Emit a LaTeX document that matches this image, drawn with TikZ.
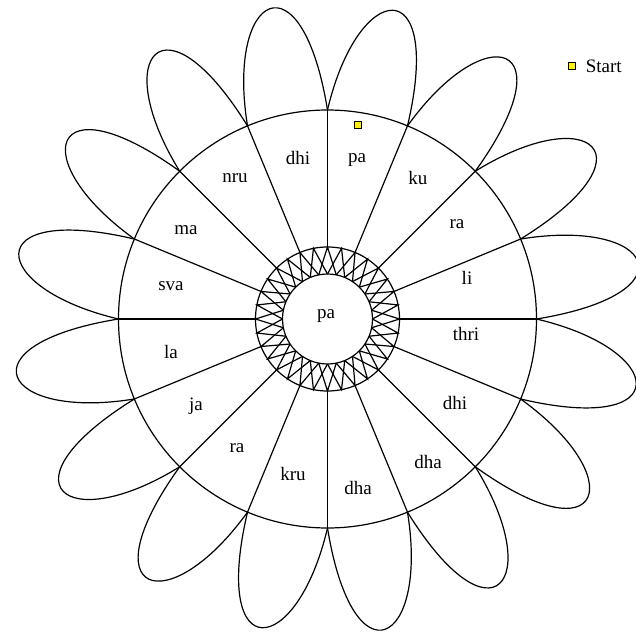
\documentclass[tikz,border=0pt]{standalone}
\usepackage{fontspec}
\setmainfont{Liberation Serif}
\usetikzlibrary{positioning}

\begin{document}
\begin{tikzpicture}[x=1pt,y=1pt,line width=1.2pt,
  syll/.style={font=\fontsize{19}{22}\selectfont, inner sep=0pt},
  startmark/.style={draw, fill=yellow, minimum size=7.5pt, inner sep=0pt, line width=0.9pt}]

\useasboundingbox (-327.5,-319) rectangle (308.5,319);

% Petals
\foreach \a in {0,22.5,...,337.5}
  \draw (\a:209) .. controls +(\a+9.25:160) and +(\a+9.25:135) .. (\a+22.5:209);

% Big circle and ring
\fill[white] (0,0) circle (209);
\draw (0,0) circle (209);
\draw (0,0) circle (72);
\draw (0,0) circle (45);

% Spokes
\foreach \a in {0,22.5,...,337.5}
  \draw (\a:72) -- (\a:209);

% Two zigzag stars inside the ring
\foreach \a in {0,22.5,...,337.5} {
  \draw (\a:45) -- (\a+11.25:72) -- (\a+22.5:45);
  \draw (\a-11.25:45) -- (\a:72) -- (\a+11.25:45);
}

% Syllables
\foreach \x/\y/\t/\n in {29.5/159/pa/s1, 90.5/141/ku/s2, 129.5/95/ra/s3,
    139.5/41/li/s4, 138.5/-15/thri/s5, 127.5/-84/dhi/s6, 100.5/-143/dha/s7,
    30.5/-169/dha/s8, -34.5/-155/kru/s9, -90.5/-129/ra/s10, -131.5/-87/ja/s11,
    -156.5/-33/la/s12, -156.5/33/sva/s13, -141.5/89/ma/s14, -92.5/141/nru/s15,
    -29.5/161/dhi/s16}
  \node[syll] (\n) at (\x,\y) {\t};
\node[syll] (hub) at (-1.5,3) {pa};

% Start point and key
\node[startmark] (startpt) at (30.5,194) {};
\node[startmark] (startkey) at (244.5,253) {};
\node[syll, right=9pt of startkey] (startlbl) {Start};

\end{tikzpicture}
\end{document}
